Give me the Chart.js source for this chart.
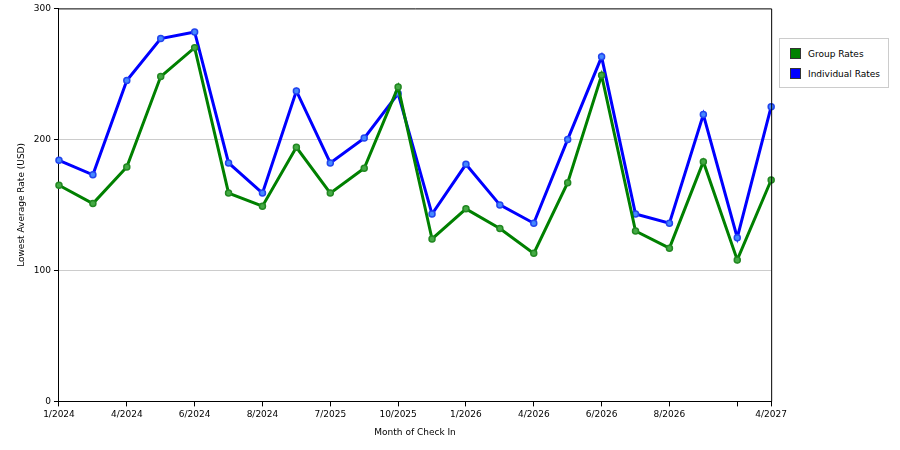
<!DOCTYPE html>
<html><head><meta charset="utf-8">
<script src="https://cdn.jsdelivr.net/npm/chart.js@4"></script>
<style>
body{margin:0;background:#fff;font-family:"DejaVu Sans",sans-serif;}
#wrap{position:absolute;left:0;top:0;width:790px;height:450px;}
#legend{position:absolute;left:779px;top:38px;width:108px;height:48px;border:1px solid #ccc;font-size:9px;color:#000;background:#fff;}
.it{position:absolute;left:10px;display:flex;align-items:center;}
.sw{width:11px;height:11px;border:1px solid #333;margin-right:7px;box-sizing:border-box;}
</style></head><body>
<div id="wrap"><canvas id="c"></canvas></div>
<div id="legend">
<div class="it" style="top:9px"><div class="sw" style="background:#008000"></div>Group Rates</div>
<div class="it" style="top:29px"><div class="sw" style="background:#0000ff"></div>Individual Rates</div>
</div>
<script>
const labels=["1/2024","","4/2024","","6/2024","","8/2024","","7/2025","","10/2025","","1/2026","","4/2026","","6/2026","","8/2026","","","4/2027"];
const groupRates=[165,151,179,248,270,159,149,194,159,178,240,124,147,132,113,167,249,130,117,183,108,169];
const individualRates=[184,173,245,277,282,182,159,237,182,201,235,143,181,150,136,200,263,143,136,219,125,225];
const tickShown=i=>labels[i]!==""||i===20;
new Chart(document.getElementById('c'),{type:'line',
data:{labels,datasets:[
{label:'Group Rates',data:groupRates,borderColor:'#008000',backgroundColor:'#44aa44',pointBorderColor:'#228822',borderWidth:3,pointRadius:3,pointBorderWidth:1.5,tension:0},
{label:'Individual Rates',data:individualRates,borderColor:'#0000ff',backgroundColor:'#4488ff',pointBorderColor:'#2244ee',borderWidth:3,pointRadius:3,pointBorderWidth:1.5,tension:0}]},
options:{responsive:true,maintainAspectRatio:false,animation:false,
layout:{padding:{top:2,right:0,left:12,bottom:8}},
plugins:{legend:{display:false},tooltip:{enabled:false}},
scales:{
x:{offset:false,grid:{display:true,drawOnChartArea:false,color:c=>tickShown(c.index)?'#000':'rgba(0,0,0,0)',tickLength:5},border:{color:'#000'},
ticks:{autoSkip:false,maxRotation:0,color:'#000',font:{size:9,family:'DejaVu Sans'}},
title:{display:true,text:'Month of Check In',color:'#000',font:{size:9,family:'DejaVu Sans'}}},
y:{min:0,max:300,ticks:{stepSize:100,color:'#000',font:{size:9,family:'DejaVu Sans'}},
grid:{color:c=>c.tick.value===0||c.tick.value===300?'rgba(0,0,0,0)':'#ccc',tickColor:'#000',tickLength:5},border:{color:'#000',dash:[]},
title:{display:true,text:'Lowest Average Rate (USD)',color:'#000',font:{size:9,family:'DejaVu Sans'}}}}},
plugins:[{id:'frame',beforeDraw(ch){ch.options.scales.y.grid.borderDash=[5,4];},afterDraw(ch){const a=ch.chartArea,x=ch.ctx;x.save();x.strokeStyle='#000';x.lineWidth=1;x.beginPath();x.moveTo(a.left,a.top+0.5);x.lineTo(a.right+0.5,a.top+0.5);x.lineTo(a.right+0.5,a.bottom);x.stroke();x.restore();}}]
});
</script></body></html>
